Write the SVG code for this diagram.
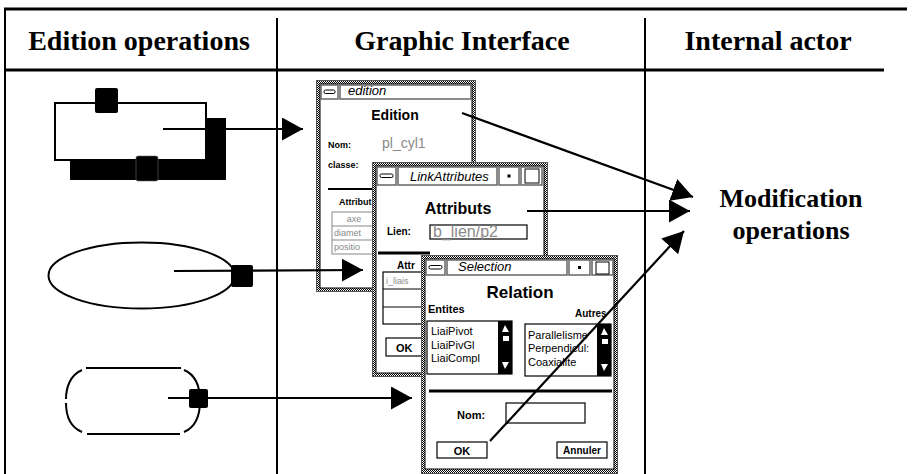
<svg xmlns="http://www.w3.org/2000/svg" width="920" height="474" viewBox="0 0 920 474">
<style>
.hdr{font-family:"Liberation Serif","Times New Roman",serif;font-weight:bold;font-size:28px;fill:#000;text-anchor:middle}
.act{font-family:"Liberation Serif","Times New Roman",serif;font-weight:bold;font-size:26px;fill:#000;text-anchor:middle}
.ln{stroke:#000;fill:none}
.frame{fill:url(#stip);stroke:#555;stroke-width:1}
.inner{fill:#fff;stroke:#000;stroke-width:1}
.seg{fill:#fff;stroke:#666;stroke-width:1.5}
.ui{font-family:"Liberation Sans",Arial,sans-serif;fill:#000}
.tt{font-style:italic;font-size:13px}
.b{font-weight:bold}
.gray{fill:#8a8a8a}
.box{fill:#fff;stroke:#000;stroke-width:1.2}
.conn{stroke:#000;stroke-width:2.2;fill:none;marker-end:url(#ah)}
.handle{fill:#000}
</style>
<defs>
<pattern id="stip" width="2" height="2" patternUnits="userSpaceOnUse">
<rect width="2" height="2" fill="#fff"/><rect width="1" height="1" fill="#000"/><rect x="1" y="1" width="1" height="1" fill="#000"/>
</pattern>
<marker id="ah" markerUnits="userSpaceOnUse" markerWidth="24" markerHeight="26" refX="21" refY="11.5" orient="auto">
<path d="M0,0 L21,11.5 L0,23 z" fill="#000"/>
</marker>
</defs>
<rect width="920" height="474" fill="#fff"/>

<g id="table">
<line class="ln" x1="4" y1="9" x2="907" y2="9" stroke-width="3"/>
<line class="ln" x1="5" y1="8" x2="5" y2="474" stroke-width="2"/>
<line class="ln" x1="5" y1="70" x2="884" y2="70" stroke-width="3"/>
<line class="ln" x1="277" y1="18" x2="277" y2="474" stroke-width="2"/>
<line class="ln" x1="645" y1="18" x2="645" y2="474" stroke-width="2"/>
<text class="hdr" x="139" y="50">Edition operations</text>
<text class="hdr" x="462" y="50">Graphic Interface</text>
<text class="hdr" x="768" y="50">Internal actor</text>
</g>

<g id="op-rectangle">
<rect x="70" y="160" width="156" height="20" fill="#000"/>
<rect x="206" y="118" width="20" height="62" fill="#000"/>
<rect x="55" y="103" width="151" height="57" fill="#fff" stroke="#000" stroke-width="2"/>
<rect class="handle" x="95" y="88" width="23" height="25" rx="2"/>
<rect class="handle" x="136" y="156" width="22" height="25" rx="2" stroke="#666" stroke-width="0.6"/>
</g>

<g id="op-ellipse">
<ellipse cx="141.5" cy="275.5" rx="93" ry="33" fill="none" stroke="#000" stroke-width="2"/>
<rect class="handle" x="231" y="265" width="22" height="22" rx="2"/>
</g>

<g id="op-roundrect" fill="none" stroke="#000" stroke-width="2">
<path d="M86,368 H181"/>
<path d="M87,434 H180"/>
<path d="M82,370 C70,375 66,388 66,399"/>
<path d="M66,403 C66,415 70,427 82,432"/>
<path d="M184,370 C196,375 200,388 200,401 C200,414 196,427 184,432"/>
<rect class="handle" x="189" y="389" width="19" height="19" rx="2" stroke="none" fill="#000"/>
</g>

<g id="win-edition">
<rect class="frame" x="316.5" y="80.5" width="159" height="211"/>
<rect class="inner" x="320" y="84" width="152" height="204"/>
<rect class="seg" x="321" y="85" width="17" height="14"/>
<rect x="324" y="90" width="11" height="3.5" rx="1.5" fill="#fff" stroke="#000" stroke-width="1"/>
<rect class="seg" x="340" y="85" width="131" height="14"/>
<text class="ui tt" x="348" y="95" font-size="12">edition</text>
<text class="ui b" x="395" y="120" font-size="14" text-anchor="middle">Edition</text>
<text class="ui b" x="328" y="148" font-size="9">Nom:</text>
<text class="ui gray" x="382" y="148" font-size="14">pl_cyl1</text>
<text class="ui b" x="328" y="168" font-size="9">classe:</text>
<line x1="328" y1="189" x2="372" y2="189" stroke="#000" stroke-width="2"/>
<text class="ui b" x="339" y="205" font-size="9">Attribut</text>
<rect x="332" y="212" width="42" height="42" fill="#fff" stroke="#888" stroke-width="1"/>
<line x1="332" y1="226" x2="374" y2="226" stroke="#888"/>
<line x1="332" y1="240" x2="374" y2="240" stroke="#888"/>
<text class="ui gray" x="354" y="222" font-size="9" text-anchor="middle">axe</text>
<text class="ui gray" x="334" y="236" font-size="9">diamet</text>
<text class="ui gray" x="334" y="250" font-size="9">positio</text>
</g>

<g id="win-linkattributes">
<rect class="frame" x="372.5" y="162.5" width="175" height="214"/>
<rect class="inner" x="376" y="166" width="168" height="207"/>
<rect class="seg" x="377" y="167" width="19" height="18"/>
<rect x="380" y="174" width="13" height="3.5" rx="1.5" fill="#fff" stroke="#000" stroke-width="1"/>
<rect class="seg" x="398" y="167" width="99" height="18"/>
<text class="ui tt" x="410" y="181" font-size="14">LinkAttributes</text>
<rect class="seg" x="499" y="167" width="20" height="18"/>
<rect x="507.5" y="174.5" width="3" height="3" fill="#000"/>
<rect class="seg" x="521" y="167" width="21" height="18"/>
<rect x="525" y="169" width="14" height="14" fill="#fff" stroke="#000" stroke-width="1"/>
<text class="ui b" x="458" y="214" font-size="16" text-anchor="middle">Attributs</text>
<text class="ui b" x="387" y="235" font-size="10">Lien:</text>
<rect class="box" x="430" y="225" width="97" height="14"/>
<text class="ui gray" x="433" y="237" font-size="16">b_lien/p2</text>
<line x1="378" y1="253" x2="430" y2="253" stroke="#000" stroke-width="3"/>
<text class="ui b" x="397" y="269" font-size="10">Attr</text>
<rect class="box" x="383" y="272" width="50" height="52"/>
<line x1="383" y1="289" x2="433" y2="289" stroke="#000"/>
<line x1="383" y1="307" x2="433" y2="307" stroke="#000"/>
<text class="ui gray" x="386" y="284" font-size="9">i_liais</text>
<rect class="box" x="386" y="338" width="40" height="18"/>
<text class="ui b" x="396" y="352" font-size="11">OK</text>
</g>

<g id="win-selection">
<rect class="frame" x="421.5" y="255.5" width="196" height="218"/>
<rect class="inner" x="425" y="259" width="189" height="210"/>
<rect class="seg" x="426" y="260" width="19" height="15"/>
<rect x="429" y="265.5" width="13" height="3.5" rx="1.5" fill="#fff" stroke="#000" stroke-width="1"/>
<rect class="seg" x="447" y="260" width="120" height="15"/>
<text class="ui tt" x="458" y="271" font-size="14">Selection</text>
<rect class="seg" x="569" y="260" width="21" height="15"/>
<rect x="578" y="266" width="3" height="3" fill="#000"/>
<rect class="seg" x="592" y="260" width="21" height="15"/>
<rect x="596" y="262" width="13" height="12" fill="#fff" stroke="#000" stroke-width="1"/>
<text class="ui b" x="520" y="298" font-size="17" text-anchor="middle">Relation</text>
<text class="ui b" x="428" y="313" font-size="11">Entites</text>
<text class="ui b" x="575" y="317" font-size="10">Autres</text>
<rect class="box" x="427" y="321" width="85" height="53"/>
<rect x="498" y="321" width="14" height="53" fill="#000"/>
<path d="M502,332 L505,325 L509,332 z" fill="#fff"/>
<rect x="503" y="336" width="6" height="5" fill="#fff"/>
<path d="M502,362 L509,362 L505,369 z" fill="#fff"/>
<text class="ui" x="431" y="335" font-size="11">LiaiPivot</text>
<text class="ui" x="431" y="349" font-size="11">LiaiPivGl</text>
<text class="ui" x="431" y="362" font-size="11">LiaiCompl</text>
<rect class="box" x="525" y="324" width="86" height="52"/>
<rect x="597" y="324" width="14" height="52" fill="#000"/>
<path d="M601,335 L604,328 L608,335 z" fill="#fff"/>
<rect x="602" y="339" width="6" height="5" fill="#fff"/>
<path d="M601,364 L608,364 L604,371 z" fill="#fff"/>
<text class="ui" x="528" y="339" font-size="11">Parallelisme</text>
<text class="ui" x="528" y="352" font-size="11">Perpendicul:</text>
<text class="ui" x="528" y="366" font-size="11">Coaxialite</text>
<line x1="429" y1="391" x2="612" y2="391" stroke="#000" stroke-width="3"/>
<text class="ui b" x="457" y="419" font-size="11">Nom:</text>
<rect class="box" x="506" y="403" width="79" height="20"/>
<rect class="box" x="437" y="442" width="50" height="16"/>
<text class="ui b" x="462" y="455" font-size="11" text-anchor="middle">OK</text>
<rect class="box" x="557" y="442" width="50" height="16"/>
<text class="ui b" x="582" y="454" font-size="10" text-anchor="middle">Annuler</text>
</g>

<g id="actor-modification">
<text class="act" x="791" y="207">Modification</text>
<text class="act" x="791" y="239">operations</text>
</g>

<g id="connectors">
<line class="conn" x1="163" y1="129" x2="303" y2="129"/>
<line class="conn" x1="174" y1="271" x2="363" y2="270"/>
<line class="conn" x1="168" y1="398" x2="412" y2="398"/>
<line class="conn" x1="462" y1="113" x2="693" y2="197"/>
<line class="conn" x1="527" y1="211" x2="690" y2="211"/>
<line class="conn" x1="490" y1="441" x2="684" y2="231"/>
</g>
</svg>
